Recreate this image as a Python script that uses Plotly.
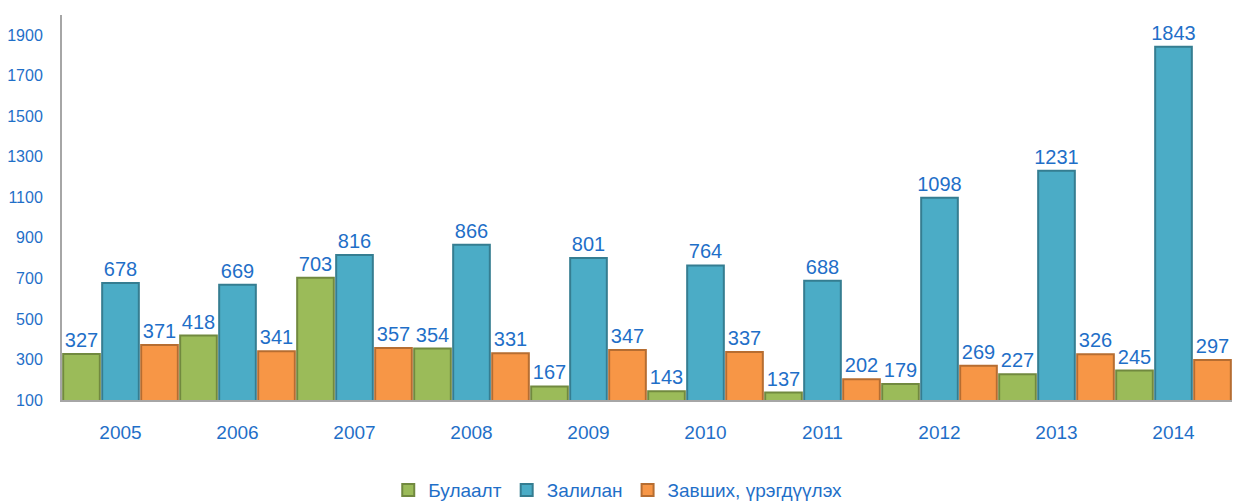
import plotly.graph_objects as go

years = ["2005", "2006", "2007", "2008", "2009", "2010", "2011", "2012", "2013", "2014"]
bulaalt = [327, 418, 703, 354, 167, 143, 137, 179, 227, 245]
zalilan = [678, 669, 816, 866, 801, 764, 688, 1098, 1231, 1843]
zavshih = [371, 341, 357, 331, 347, 337, 202, 269, 326, 297]
y_ticks = [100, 300, 500, 700, 900, 1100, 1300, 1500, 1700, 1900]

names = ["Булаалт", "Залилан", "Завших, үрэгдүүлэх"]
fills = ["#9BBB59", "#4BACC6", "#F79646"]
lines = ["#71893F", "#357D91", "#B66D31"]
txt_color = "#1F6FC8"
font_family = "Arial, Liberation Sans, sans-serif"

fig = go.Figure()
for name, vals, fc, lc in zip(names, [bulaalt, zalilan, zavshih], fills, lines):
    fig.add_trace(go.Bar(
        x=years, y=vals, name=name,
        marker=dict(color=fc, line=dict(color=lc, width=2)),
        text=[str(v) for v in vals], textposition="outside",
        textfont=dict(color=txt_color, size=20, family=font_family),
        constraintext="none",
        cliponaxis=False,
    ))

fig.update_layout(
    width=1233, height=502,
    margin=dict(l=62, r=1, t=15, b=102, autoexpand=False),
    barmode="group", bargap=0.0, bargroupgap=0.06,
    paper_bgcolor="white", plot_bgcolor="white",
    font=dict(family=font_family, color=txt_color),
    showlegend=True,
    legend=dict(orientation="h", x=0.475, xanchor="center", y=-0.234, yanchor="middle",
                font=dict(size=19, color=txt_color, family=font_family),
                itemwidth=30, traceorder="normal"),
)
fig.update_yaxes(
    range=[100, 2000], tickvals=y_ticks, showgrid=False, zeroline=False,
    showline=True, linecolor="#A6A6A6", linewidth=2, automargin=False,
    tickfont=dict(size=16, color=txt_color, family=font_family),
    ticks="", ticklabelstandoff=14,
)
fig.update_xaxes(
    showgrid=False, showline=True, linecolor="#A6A6A6", linewidth=2, automargin=False,
    tickfont=dict(size=19, color=txt_color, family=font_family),
    ticks="", ticklabelstandoff=14,
)

fig.write_html("out.html", config={"displayModeBar": False},
               post_script="document.body.style.margin='0';document.body.style.overflow='hidden';")
